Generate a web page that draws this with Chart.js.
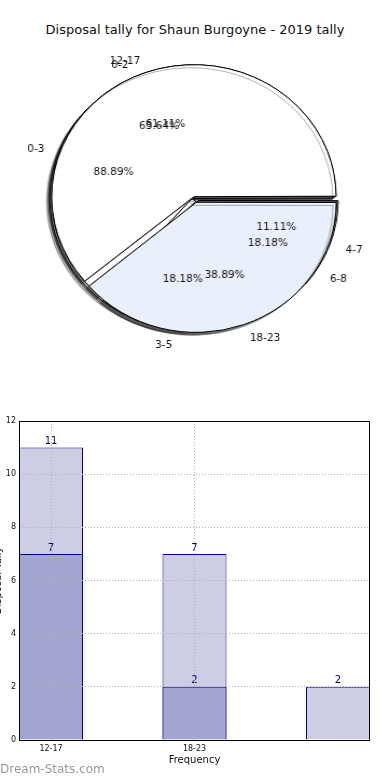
<!DOCTYPE html>
<html>
<head>
<meta charset="utf-8">
<script src="https://cdn.jsdelivr.net/npm/chart.js@4.4.0/dist/chart.umd.min.js"></script>
<style>
  html, body { margin: 0; padding: 0; background: #fff; }
  body { width: 390px; height: 780px; position: relative; overflow: hidden; font-family: "DejaVu Sans", sans-serif; }
  #title { position: absolute; top: 22px; left: 0; width: 390px; text-align: center; font-size: 13px; color: #111; }
  .pie { position: absolute; left: 0; top: 51px; width: 390px; height: 298px; transform: scaleX(1.077); transform-origin: 195px 149px; }
  #barBox { position: absolute; left: -8px; top: 400px; width: 398px; height: 380px; }
  #mark { position: absolute; left: 0; top: 762px; font-size: 12px; color: #999; }
</style>
</head>
<body>
<div id="title">Disposal tally for Shaun Burgoyne - 2019 tally</div>
<div class="pie"><canvas id="pieA"></canvas></div>
<div class="pie"><canvas id="pieB"></canvas></div>
<div class="pie"><canvas id="pieC"></canvas></div>
<div id="barBox"><canvas id="bars"></canvas></div>
<div id="mark">Dream-Stats.com</div>
<script>
// pie data (matplotlib style: counter-clockwise from 3 o'clock)
const pieLabelsA = ['0-3', '4-7'];
const pieValuesA = [8, 1];
const pieLabelsB = ['0-2', '3-5', '6-8'];
const pieValuesB = [7, 2, 2];
const pieLabelsC = ['12-17', '18-23'];
const pieValuesC = [11, 7];

// bar data
const barPositions = [0, 1, 2];
const tickLabels = ['12-17', '18-23'];
const seriesLight = [11, 7, 2];
const seriesDark = [7, 2, null];

const sx = 1.077;
const pieColors = ['#ffffff', '#eaf0fb', '#eaf0fb'];

const shadowPlugin = {
  id: 'shadow',
  beforeDatasetsDraw(chart) {
    const ctx = chart.ctx;
    ctx.save();
    ctx.shadowColor = 'rgba(0,0,0,0.3)';
    ctx.shadowOffsetX = -3;
    ctx.shadowOffsetY = 3;
    ctx.shadowBlur = 0;
  },
  afterDatasetsDraw(chart) {
    chart.ctx.restore();
  }
};

// all pie texts are drawn above every wedge, like matplotlib does
const pieTextPlugin = {
  id: 'pieText',
  afterDraw(chart) {
    const arc = chart.getDatasetMeta(0).data[0];
    const cx = arc.x, cy = arc.y, r = arc.outerRadius;
    const ctx = chart.ctx;
    ctx.save();
    ctx.font = '10.5px "DejaVu Sans"';
    ctx.fillStyle = '#111';
    ctx.textBaseline = 'middle';
    [[pieLabelsA, pieValuesA], [pieLabelsB, pieValuesB], [pieLabelsC, pieValuesC]].forEach(([labels, values]) => {
      const total = values.reduce((a, b) => a + b, 0);
      let start = 0;
      values.forEach((v, i) => {
        const sweep = v / total * 2 * Math.PI;
        const mid = start + sweep / 2;
        start += sweep;
        const ex = Math.cos(mid) * 3, ey = -Math.sin(mid) * 3;
        const put = (text, dx, dy, align) => {
          const x = cx + ex + Math.cos(mid) * r * dx;
          const y = cy + ey - Math.sin(mid) * r * dy;
          ctx.save();
          ctx.translate(x, y);
          ctx.scale(1 / sx, 1);
          ctx.textAlign = align;
          ctx.fillText(text, 0, 0);
          ctx.restore();
        };
        put(labels[i], 1.13, 1.12, Math.cos(mid) > 0 ? 'left' : 'right');
        put((v / total * 100).toFixed(2) + '%', 0.6, 0.6, 'center');
      });
    });
    ctx.restore();
  }
};

function makePie(id, labels, values, withText) {
  const plugins = [shadowPlugin];
  if (withText) plugins.push(pieTextPlugin);
  return new Chart(document.getElementById(id), {
    type: 'pie',
    data: {
      labels: labels.slice().reverse(),
      datasets: [{
        data: values.slice().reverse(),
        backgroundColor: pieColors.slice(0, values.length).reverse(),
        borderColor: '#000',
        borderWidth: 1,
        offset: 12
      }]
    },
    options: {
      responsive: true,
      maintainAspectRatio: false,
      animation: false,
      rotation: 90,
      layout: { padding: { top: 13, bottom: 14 } },
      plugins: { legend: { display: false }, tooltip: { enabled: false } }
    },
    plugins: plugins
  });
}

makePie('pieA', pieLabelsA, pieValuesA, false);
makePie('pieB', pieLabelsB, pieValuesB, false);
makePie('pieC', pieLabelsC, pieValuesC, true);

const boxPlugin = {
  id: 'box',
  afterDraw(chart) {
    const a = chart.chartArea, ctx = chart.ctx;
    ctx.save();
    ctx.strokeStyle = '#000';
    ctx.lineWidth = 1;
    ctx.strokeRect(a.left + 0.5, a.top + 0.5, a.right - a.left - 1, a.bottom - a.top);
    ctx.restore();
  }
};

const valuePlugin = {
  id: 'values',
  afterDatasetsDraw(chart) {
    const ctx = chart.ctx;
    ctx.save();
    ctx.font = '10px "DejaVu Sans"';
    ctx.fillStyle = '#000080';
    ctx.textAlign = 'center';
    ctx.textBaseline = 'bottom';
    chart.data.datasets.forEach((ds, di) => {
      chart.getDatasetMeta(di).data.forEach((el, i) => {
        const v = ds.data[i].y;
        if (v === null) return;
        ctx.fillText(String(v), el.x, el.y - 1);
      });
    });
    ctx.restore();
  }
};

new Chart(document.getElementById('bars'), {
  type: 'bar',
  data: {
    datasets: [
      {
        label: 'dark',
        data: barPositions.map((x, i) => ({ x: x, y: seriesDark[i] })),
        backgroundColor: '#a3a5d1',
        borderColor: '#000080',
        borderWidth: 1,
        grouped: false,
        order: 0
      },
      {
        label: 'light',
        data: barPositions.map((x, i) => ({ x: x, y: seriesLight[i] })),
        backgroundColor: '#cdcee4',
        borderColor: '#000080',
        borderWidth: 1,
        grouped: false,
        order: 1
      }
    ]
  },
  options: {
    responsive: true,
    maintainAspectRatio: false,
    animation: false,
    barPercentage: 0.446,
    categoryPercentage: 1,
    layout: { padding: { top: 21, right: 20, left: 0, bottom: 0 } },
    plugins: { legend: { display: false }, tooltip: { enabled: false } },
    scales: {
      x: {
        type: 'linear',
        offset: false,
        min: -0.223,
        max: 2.223,
        afterBuildTicks: s => { s.ticks = tickLabels.map((_, i) => ({ value: i })); },
        afterFit: s => { s.height = 40; },
        grid: { color: '#b0b0b0', drawTicks: false, offset: false, z: 1 },
        border: { display: false, dash: [1, 2] },
        ticks: { padding: 4, color: '#111', font: { size: 8, family: 'DejaVu Sans' }, callback: v => tickLabels[v] },
        title: { display: true, text: 'Frequency', color: '#111', font: { size: 10, family: 'DejaVu Sans' }, padding: { top: 0, bottom: 14 } }
      },
      y: {
        min: 0,
        max: 12,
        afterFit: s => { s.width = 27; },
        grid: { color: '#b0b0b0', drawTicks: false, z: 1 },
        border: { display: false, dash: [1, 2] },
        ticks: { stepSize: 2, padding: 3, color: '#111', font: { size: 8, family: 'DejaVu Sans' } },
        title: { display: true, text: 'Disposal Tally', color: '#111', font: { size: 10, family: 'DejaVu Sans' }, padding: 0 }
      }
    }
  },
  plugins: [boxPlugin, valuePlugin]
});
</script>
</body>
</html>
